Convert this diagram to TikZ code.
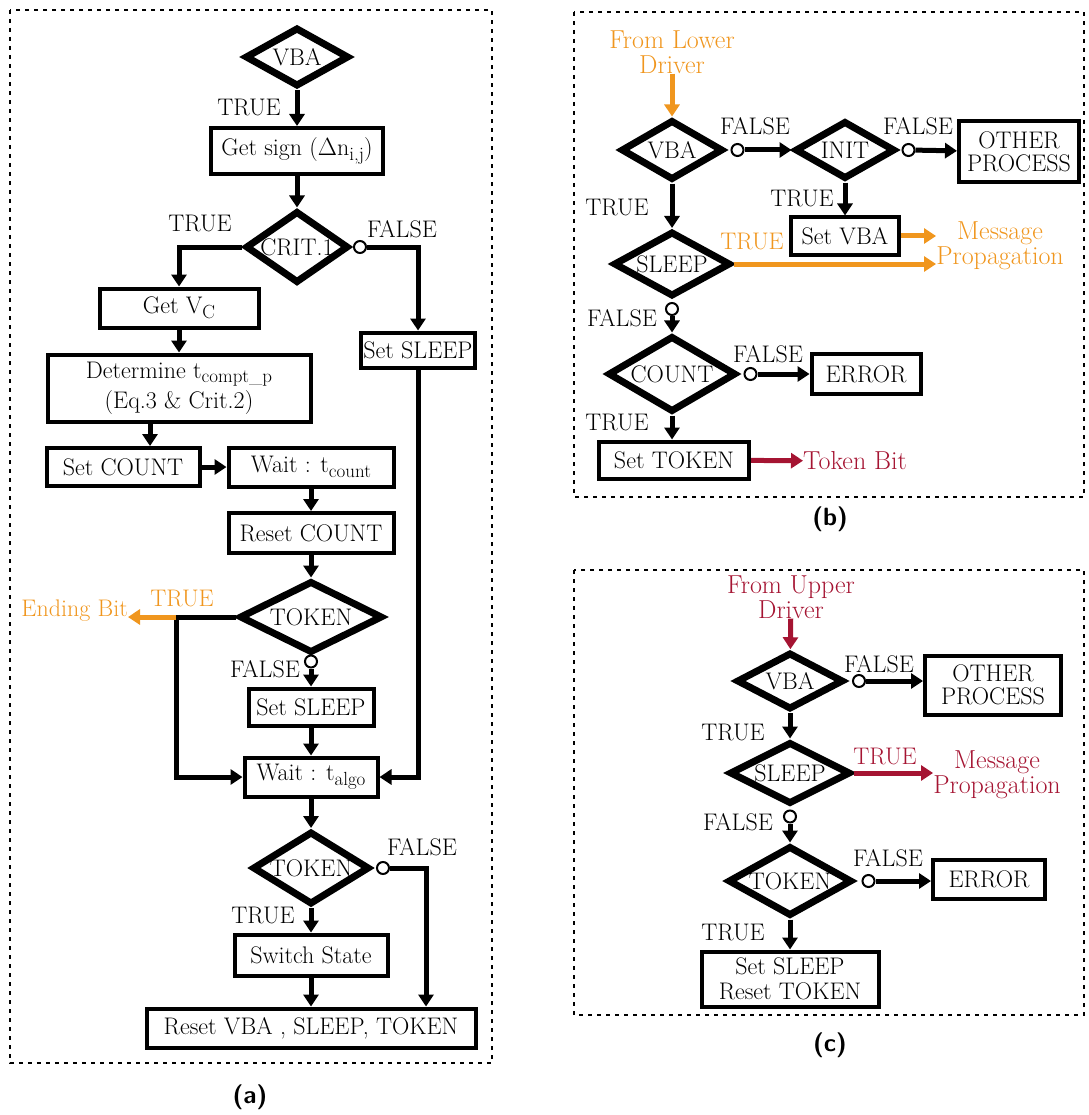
\documentclass[tikz,border=0pt]{standalone}
\usetikzlibrary{arrows.meta,shapes.geometric}

\definecolor{orng}{RGB}{240,150,30}
\definecolor{wine}{RGB}{165,20,50}
\newcommand\ctr[1]{\makebox[0pt]{#1}}
\newcommand\sbs[1]{\raisebox{-0.45ex}{\fontsize{19}{19}\selectfont #1}}

\tikzset{
  box/.style={draw, line width=4pt, inner sep=0pt, align=center},
  dec/.style={diamond, draw, line width=7pt, inner sep=0pt},
  flow/.style={line width=5pt, -{Triangle[length=12pt, width=15pt]}},
  knob/.style={circle, draw, fill=white, line width=2pt, minimum size=12pt, inner sep=0pt},
  word/.style={inner sep=0pt},
  hot/.style={inner sep=0pt, align=center, font=\fontsize{26}{25}\selectfont},
  panel/.style={line width=2pt, dash pattern=on 4pt off 5pt},
  tag/.style={font=\fontsize{25}{25}\selectfont\sffamily\bfseries},
}

\begin{document}
\begin{tikzpicture}[x=1pt, y=-1pt, font=\fontsize{24}{23}\selectfont]
\useasboundingbox (0,0) rectangle (1088,1115);

%%%%%%%%%%%%%%%%%%%%%%%%%%%%%%%%%%%%%%%% (a)
\draw[panel] (10,10) rectangle (492,1063);
\node[tag] (capa) at (250,1097) {(a)};

\node[dec, minimum width=104pt, minimum height=59pt] (vba) at (297,57) {\ctr{VBA}};
\node[box, minimum width=172pt, minimum height=46pt] (sign) at (297,151) {Get sign ($\Delta$n\sbs{i,j})};
\node[dec, minimum width=103pt, minimum height=72pt] (crit) at (297,247) {\ctr{CRIT.1}};
\node[knob] (k1) at ([xshift=8pt]crit.east) {};
\node[box, minimum width=159pt, minimum height=39pt] (getvc) at (179,308) {Get V\sbs{C}};
\node[box, minimum width=114pt, minimum height=35pt] (sleepa) at (418,350) {Set SLEEP};
\node[box, minimum width=263pt, minimum height=67pt] (det) at (179,388)
  {Determine t\sbs{compt\_p}\\[3pt](Eq.3 \& Crit.2)};
\node[box, minimum width=153pt, minimum height=38pt] (setcnt) at (123,467) {Set COUNT};
\node[box, minimum width=165pt, minimum height=39pt] (waitcnt) at (311,467) {Wait : t\sbs{count}};
\node[box, minimum width=165pt, minimum height=40pt] (rstcnt) at (311,533) {Reset COUNT};
\node[dec, minimum width=143pt, minimum height=72pt] (tok) at (311,617) {\ctr{TOKEN}};
\node[knob] (k2) at ([yshift=-5pt]tok.south) {};
\node[box, minimum width=125pt, minimum height=37pt] (sleepb) at (311,707) {Set SLEEP};
\node[box, minimum width=133pt, minimum height=39pt] (talgo) at (311,777) {Wait : t\sbs{algo}};
\node[dec, minimum width=117pt, minimum height=73pt] (tokb) at (311,868) {\ctr{TOKEN}};
\node[knob] (k3) at ([xshift=10pt]tokb.east) {};
\node[box, minimum width=153pt, minimum height=41pt] (switch) at (311,955) {Switch State};
\node[box, minimum width=329pt, minimum height=39pt] (rstvba) at (311,1028) {Reset VBA , SLEEP, TOKEN};

\node[word] (ta1) at (249,107) {TRUE};
\node[word] (ta2) at (200,223) {TRUE};
\node[word] (fa1) at (402,229) {FALSE};
\node[word, text=orng] (ta3) at (182,598) {TRUE};
\node[word, text=orng, anchor=east] (endbit) at (128,611) {Ending Bit};
\node[word] (fa2) at (265,669) {FALSE};
\node[word] (fa3) at (422,847) {FALSE};
\node[word] (ta4) at (263,915) {TRUE};

\draw[flow] (vba) -- (sign);
\draw[flow] (sign) -- (crit);
\draw[flow] (crit.west) -| (getvc.north);
\draw[flow] (k1) -| (sleepa.north);
\draw[flow] (getvc) -- (det);
\draw[flow] ([xshift=-29pt]det.south) -- ([xshift=-29pt]det.south |- setcnt.north);
\draw[flow] (setcnt) -- (waitcnt);
\draw[flow] (waitcnt) -- (rstcnt);
\draw[flow] (rstcnt) -- (tok);
\draw[flow] (tok.west) -- ++(-60,0) coordinate (fork) |- (talgo.west);
\draw[flow, orng] (fork) -- (fork -| endbit.east);
\draw[flow] (k2) -- (sleepb);
\draw[flow] (sleepb) -- (talgo);
\draw[flow] (sleepa.south) |- (talgo.east);
\draw[flow] (talgo) -- (tokb);
\draw[flow] (tokb) -- (switch);
\draw[flow] (k3) -| ([xshift=115pt]rstvba.north);
\draw[flow] (switch) -- (rstvba);

%%%%%%%%%%%%%%%%%%%%%%%%%%%%%%%%%%%%%%%% (b)
\draw[panel] (574,12) rectangle (1084,497);
\node[tag] (capb) at (830,519) {(b)};

\node[hot, text=orng] (lower) at (672,52) {From Lower\\Driver};
\node[dec, minimum width=102pt, minimum height=60pt] (vbab) at (672,150) {\ctr{VBA}};
\node[knob] (k4) at ([xshift=11pt]vbab.east) {};
\node[dec, minimum width=100pt, minimum height=58pt] (init) at (845,150) {\ctr{INIT}};
\node[knob] (k5) at ([xshift=10pt]init.east) {};
\node[box, minimum width=120pt, minimum height=61pt] (othb) at (1019,152) {OTHER\\PROCESS};
\node[box, minimum width=108pt, minimum height=37pt] (setvba) at (845,236) {Set VBA};
\node[hot, text=orng] (msgb) at (1000,246) {Message\\Propagation};
\node[dec, minimum width=117pt, minimum height=65pt] (sleepc) at (672,264) {\ctr{SLEEP}};
\node[knob] (k6) at ([yshift=-9pt]sleepc.south) {};
\node[dec, minimum width=128pt, minimum height=76pt] (count) at (672,374) {\ctr{COUNT}};
\node[knob] (k7) at ([xshift=11pt]count.east) {};
\node[box, minimum width=109pt, minimum height=40pt] (errb) at (866,374) {ERROR};
\node[box, minimum width=150pt, minimum height=37pt] (settok) at (674,460) {Set TOKEN};
\node[hot, text=wine, anchor=west] (tokbit) at (803,461) {Token Bit};

\node[word] (fb1) at (755,126) {FALSE};
\node[word] (fb2) at (918,126) {FALSE};
\node[word] (tb1) at (617,207) {TRUE};
\node[word] (tb2) at (802,198) {TRUE};
\node[word, text=orng] (tb3) at (752,241) {TRUE};
\node[word] (fb3) at (622,318) {FALSE};
\node[word] (fb4) at (768,354) {FALSE};
\node[word] (tb4) at (617,422) {TRUE};

\draw[flow, orng] (lower) -- (vbab);
\draw[flow] (k4) -- (init);
\draw[flow] (k5) -- (othb);
\draw[flow] (init) -- (setvba);
\draw[flow, orng] (setvba) -- (setvba -| msgb.west);
\draw[flow] (vbab) -- (sleepc);
\draw[flow, orng] (sleepc.east) -- (sleepc.east -| msgb.west);
\draw[flow] (k6) -- (count);
\draw[flow] (k7) -- (errb);
\draw[flow] (count.south) -- (count.south |- settok.north);
\draw[flow, wine] (settok) -- (tokbit);

%%%%%%%%%%%%%%%%%%%%%%%%%%%%%%%%%%%%%%%% (c)
\draw[panel] (574,570) rectangle (1084,1015);
\node[tag] (capc) at (830,1045) {(c)};

\node[hot, text=wine] (upper) at (791,597) {From Upper\\Driver};
\node[dec, minimum width=107pt, minimum height=57pt] (vbac) at (790,681) {\ctr{VBA}};
\node[knob] (k8) at ([xshift=12pt]vbac.east) {};
\node[box, minimum width=136pt, minimum height=59pt] (othc) at (993,685) {OTHER\\PROCESS};
\node[dec, minimum width=121pt, minimum height=62pt] (sleepd) at (790,773) {\ctr{SLEEP}};
\node[knob] (k9) at ([yshift=-9pt]sleepd.south) {};
\node[hot, text=wine] (msgc) at (997,775) {Message\\Propagation};
\node[dec, minimum width=124pt, minimum height=70pt] (tokc) at (790,881) {\ctr{TOKEN}};
\node[knob] (k10) at ([xshift=13pt]tokc.east) {};
\node[box, minimum width=112pt, minimum height=39pt] (errc) at (989,879) {ERROR};
\node[box, minimum width=177pt, minimum height=55pt] (setsl) at (790,979) {Set SLEEP\\[2pt]Reset TOKEN};

\node[word] (fc1) at (879,664) {FALSE};
\node[word] (tc1) at (733,732) {TRUE};
\node[word, text=wine] (tc2) at (885,756) {TRUE};
\node[word] (fc2) at (738,822) {FALSE};
\node[word] (fc3) at (888,858) {FALSE};
\node[word] (tc3) at (733,932) {TRUE};

\draw[flow, wine] (upper) -- (vbac);
\draw[flow] (k8) -- (othc.west |- k8);
\draw[flow] (vbac) -- (sleepd);
\draw[flow, wine] (sleepd.east) -- (sleepd.east -| msgc.west);
\draw[flow] (k9) -- (tokc);
\draw[flow] (k10) -- (errc.west |- k10);
\draw[flow] (tokc) -- (setsl);
\end{tikzpicture}
\end{document}
